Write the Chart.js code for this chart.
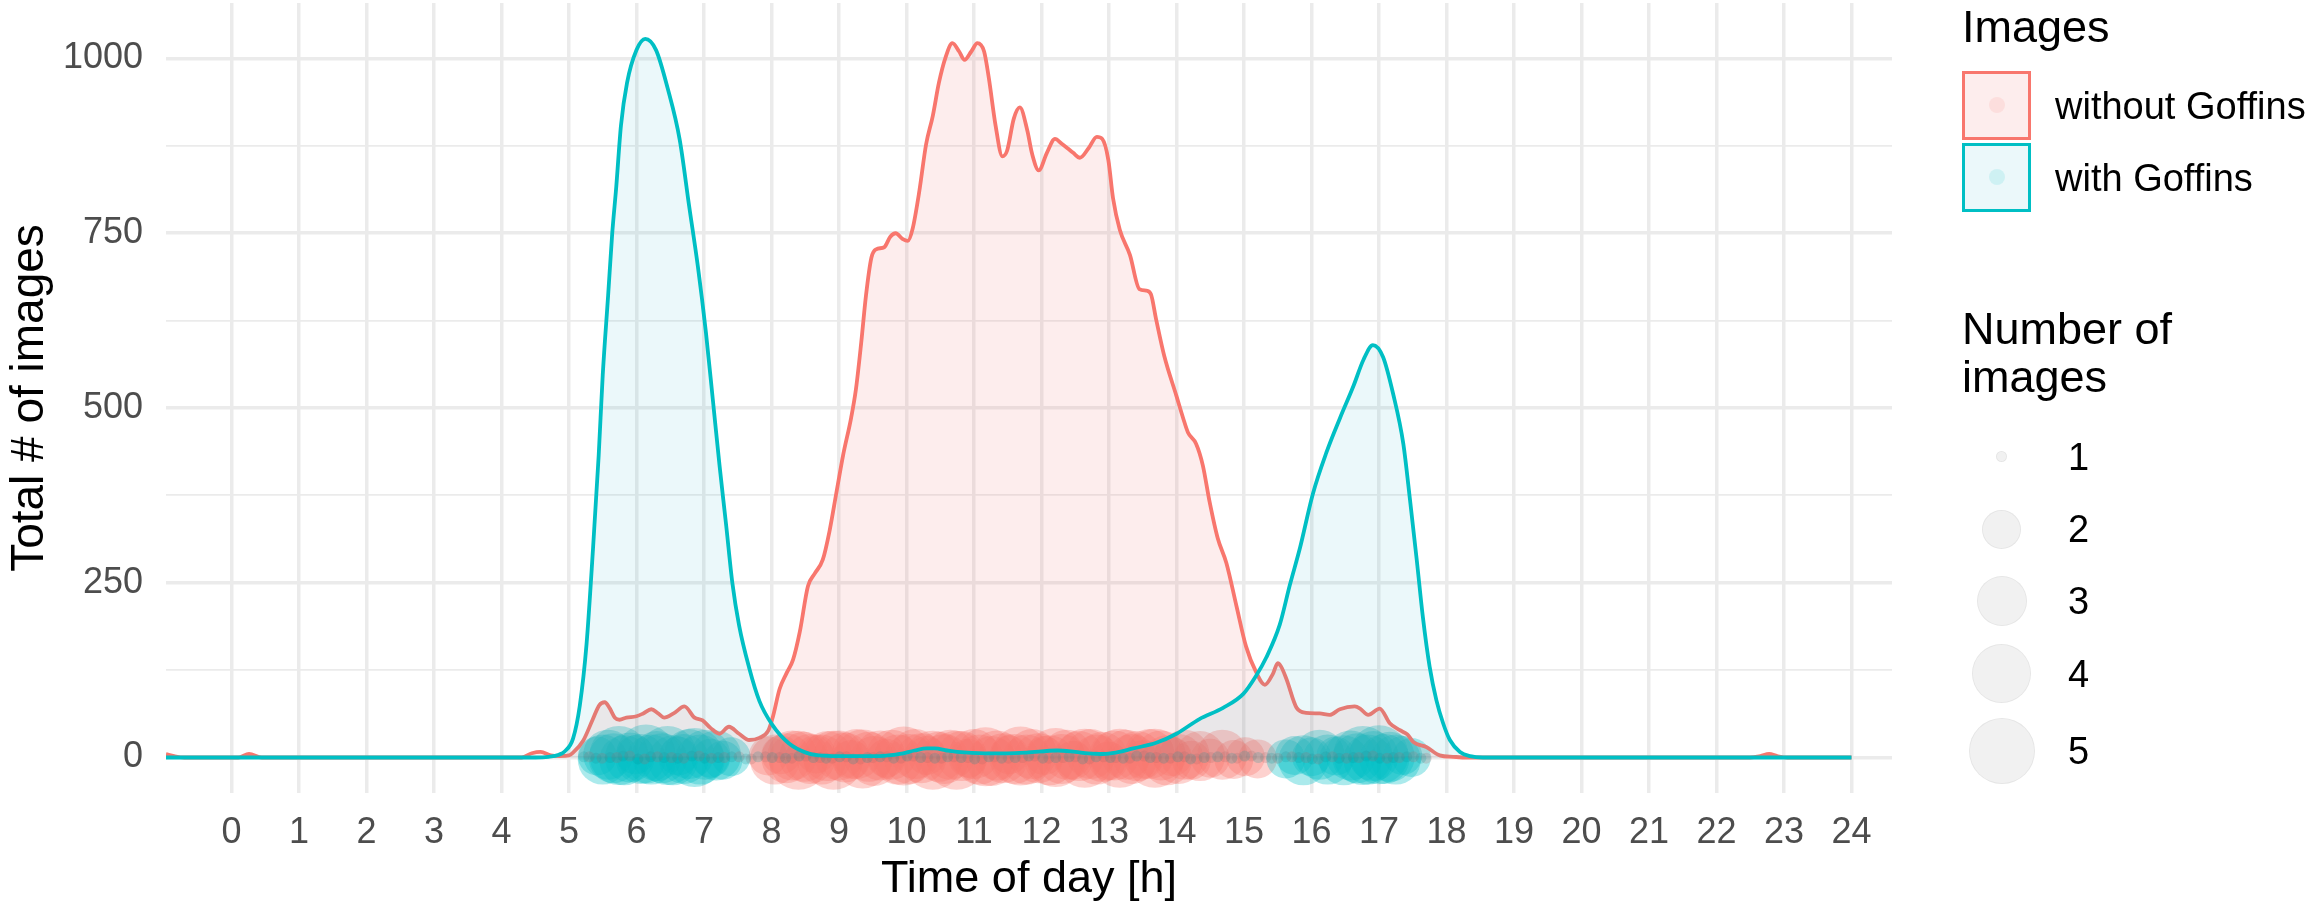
<!DOCTYPE html>
<html><head><meta charset="utf-8">
<script src="https://cdn.jsdelivr.net/npm/chart.js@4.4.1/dist/chart.umd.min.js"></script>
<style>
html,body{margin:0;padding:0;background:#fff;}
#wrap{position:relative;width:2308px;height:912px;overflow:hidden;font-family:"Liberation Sans",Arial,Helvetica,sans-serif;}
#c{position:absolute;left:0;top:0;}
.lg{position:absolute;white-space:nowrap;line-height:1;color:#000;}
.key{position:absolute;box-sizing:border-box;}
.dot{position:absolute;border-radius:50%;box-sizing:border-box;}
</style></head><body>
<div id="wrap"><canvas id="c" width="2308" height="912"></canvas><div id="legend"></div></div>
<script>
// ---------- data ----------
const hourTicks = [0,1,2,3,4,5,6,7,8,9,10,11,12,13,14,15,16,17,18,19,20,21,22,23,24];
const yLabelValues = [0,250,500,750,1000];
const yMinorValues = [125,375,625,875];

const seriesNames = ['without Goffins','with Goffins'];
const legendTitle = 'Images';
const sizeTitle = ['Number of','images'];
const sizeLevels = [1,2,3,4,5];

// density curve "without Goffins"
const redHours = [-0.97,-0.85,-0.7,0.1,0.26,0.45,4.3,4.45,4.58,4.73,
 4.86,5.0,5.06,5.21,5.35,5.45,5.53,5.6,5.68,5.75,
 5.85,6.0,6.1,6.22,6.32,6.41,6.55,6.71,6.86,6.98,
 7.1,7.23,7.37,7.52,7.67,7.82,7.95,8.02,8.12,8.22,
 8.32,8.42,8.54,8.64,8.76,8.86,8.96,9.06,9.18,9.25,
 9.33,9.4,9.48,9.55,9.67,9.76,9.84,9.94,10.02,10.09,
 10.19,10.29,10.39,10.48,10.58,10.68,10.78,10.86,10.96,11.05,
 11.15,11.22,11.32,11.42,11.49,11.59,11.68,11.79,11.86,11.96,
 12.08,12.2,12.3,12.38,12.47,12.57,12.7,12.82,12.9,12.99,
 13.06,13.16,13.31,13.45,13.55,13.62,13.7,13.82,14.0,14.1,
 14.17,14.29,14.39,14.49,14.61,14.74,14.89,15.03,15.18,15.31,
 15.43,15.5,15.55,15.63,15.78,15.92,16.12,16.27,16.42,16.64,
 16.72,16.84,17.01,17.16,17.31,17.42,17.51,17.7,17.9,18.1,
 18.3,22.5,22.65,22.78,22.9,23.05,24];
const redValues = [5,2,0,0,5,0,0,6,8,3,
 2,3,7,24,54,75,79,71,57,54,
 57,59,63,69,63,57,63,73,57,53,
 42,34,44,34,25,28,38,58,98,120,
 140,180,245,263,283,324,378,432,486,526,
 594,661,715,727,730,745,750,742,739,756,
 810,877,918,965,1002,1022,1010,998,1010,1022,
 1010,972,904,860,868,914,930,897,864,840,
 865,885,878,872,865,858,872,888,885,855,
 800,755,719,670,668,663,626,574,517,485,
 465,449,418,366,314,278,216,159,122,104,
 120,135,130,112,71,64,63,61,69,73,
 70,61,70,49,39,33,22,15,3,1,
 0,0,2,5,2,0,0];

// density curve "with Goffins"
const tealHours = [-0.97,4.5,4.7,4.85,4.94,5.06,5.16,5.26,5.355,5.44,
 5.5,5.58,5.64,5.7,5.77,5.86,6.0,6.13,6.29,6.46,
 6.64,6.78,6.91,7.03,7.13,7.23,7.33,7.42,7.52,7.67,
 7.82,8.01,8.26,8.51,8.7,9.0,9.6,9.9,10.12,10.3,
 10.42,10.6,10.75,11.17,11.5,11.78,12.23,12.5,12.69,12.91,
 13.1,13.36,13.7,14.0,14.34,14.69,14.99,15.18,15.33,15.53,
 15.68,15.83,16.02,16.22,16.42,16.62,16.77,16.91,17.06,
 17.21,17.36,17.46,17.56,17.65,17.75,17.85,17.95,18.05,18.2,
 18.35,18.54,24];
const tealValues = [0,0,1,4,9,27,74,162,297,432,
 547,661,749,816,904,965,1012,1028,1012,958,
 884,789,702,607,513,418,331,250,189,128,
 81,47,20,7,3,2,2,5,10,13,
 13,10,8,6,6,7,10,8,6,5,
 7,13,21,34,55,71,91,117,143,190,
 247,300,377,436,485,531,569,590,573,
 520,449,368,282,201,130,82,49,25,8,
 2,0,0];

// images plotted as points (hour, jitter, number of images)
const redPtHours = [7.95,8.05,8.14,8.22,8.31,8.40,8.48,8.57,8.66,8.74,
 8.83,8.92,9.00,9.09,9.18,9.26,9.35,9.44,9.52,9.61,
 9.70,9.78,9.87,9.96,10.04,10.13,10.22,10.30,10.39,10.48,
 10.56,10.65,10.74,10.82,10.91,11.00,11.08,11.17,11.26,11.34,
 11.43,11.52,11.60,11.69,11.78,11.86,11.95,12.04,12.12,12.21,
 12.30,12.38,12.47,12.56,12.64,12.73,12.82,12.90,12.99,13.08,
 13.16,13.25,13.34,13.42,13.51,13.60,13.68,13.77,13.86,13.94,
 14.03,14.12,14.22,14.35,14.50,14.68,14.85,15.02,15.20];
const redPtCounts = [2,3,2,3,3,4,3,3,2,3,
 3,4,3,3,2,3,4,3,3,3,
 2,3,3,4,3,3,3,2,4,3,
 3,3,4,3,2,3,3,4,3,3,
 3,2,3,4,3,3,3,2,3,4,
 3,3,2,3,4,3,3,3,2,3,
 4,3,3,3,2,3,4,3,3,2,
 3,3,2,3,2,3,2,2,2];
const redPtJitter = [2,-3,4,-1,3,-4,1,-2,5,-3,
 2,-4,3,0,-3,5,-2,1,-5,3,
 -1,4,-3,2,-2,5,-1,3,-4,1,
 -2,4,-4,2,-1,5,-3,1,-5,3,
 -1,4,-2,2,-3,5,-1,3,-4,0,
 -2,4,-4,2,-1,5,-3,1,-5,3,
 -1,4,-2,2,-3,5,-1,3,-4,1,
 -2,4,-4,2,-1,4,-3,1,-2];

const tealPtHours = [5.42,5.50,5.58,5.66,5.74,5.82,5.90,5.98,6.06,6.14,
 6.22,6.30,6.38,6.46,6.54,6.62,6.70,6.78,6.86,6.94,
 7.02,7.10,7.18,7.28,7.40,
 15.62,15.75,15.88,16.00,16.12,16.24,16.36,16.48,16.58,16.68,
 16.76,16.84,16.92,17.00,17.08,17.16,17.25,17.35,17.48];
const tealPtCounts = [2,3,3,3,4,3,3,2,3,4,
 3,3,3,4,3,2,3,3,4,3,
 3,2,3,2,2,
 2,2,3,2,3,3,2,3,3,3,
 4,3,3,4,3,3,3,2,2];
const tealPtJitter = [2,-3,4,-1,3,-4,0,4,-2,5,
 -3,2,-1,3,-4,2,-2,5,0,-3,
 4,-1,3,-4,1,
 -2,3,-4,1,4,-3,2,-4,3,-1,
 3,-3,2,4,-2,1,-3,3,0];

// single images (number of images = 1)
const redSingleHours = [5.30,5.49,5.71,5.90,6.12,6.31,6.52,6.70,6.93,7.11,
 7.30,7.52,7.70,7.91,8.12,8.30,8.51,8.72,8.90,9.11,
 9.32,9.50,9.71,9.92,10.10,10.31,10.52,10.70,10.91,11.12,
 11.30,11.51,11.72,11.90,12.11,12.32,12.50,12.71,12.92,13.10,
 13.31,13.52,13.70,13.91,14.12,14.30,14.51,14.72,14.90,15.11,
 15.32,15.50,15.71,15.92,16.10,16.31,16.52,16.70,16.91,17.12,
 17.30,17.51,17.70];
const tealSingleHours = [5.22,5.40,5.61,5.80,6.02,6.21,6.41,6.61,6.82,7.01,
 7.21,7.41,7.62,7.80,8.01,8.21,8.41,8.62,8.81,9.01,
 9.21,9.42,9.61,9.81,10.01,10.21,10.42,10.61,10.81,11.01,
 11.22,11.41,11.61,11.81,12.02,12.21,12.41,12.61,12.81,13.02,
 13.21,13.41,13.61,13.81,14.02,14.21,14.41,14.61,14.82,15.01,
 15.21,15.41,15.62,15.81,16.01,16.21,16.41,16.62,16.81,17.01,
 17.21,17.41,17.62];
const singleJitter = [1,-1,0,2,-2,1,0,-1,2,-1,
 0,1,-2,1,0,-1,2,0,-1,1,
 -2,0,1,-1,2,0,-1,1,0,-2,
 1,-1,0,2,-1,0,1,-2,1,0,
 -1,2,0,-1,1,-2,0,1,-1,2,
 0,-1,1,0,-2,1,-1,0,2,-1,
 0,1,-1];

// ---------- styles ----------
const FONT = '"Liberation Sans", Arial, Helvetica, sans-serif';
const RED = '#F8766D', TEAL = '#00BFC4';
const sizeRadius = {1:5.5, 2:19.5, 3:25, 4:29.5, 5:33};
const pairs = (xs, ys) => xs.map((x, i) => ({x: x, y: ys[i]}));

const ctx = document.getElementById('c').getContext('2d');
new Chart(ctx, {
  type: 'line',
  data: {
    datasets: [
      {label: seriesNames[1], data: pairs(tealHours, tealValues), borderColor: TEAL, borderWidth: 3.8,
       backgroundColor: 'rgba(20,170,200,0.085)', fill: 'origin', pointRadius: 0, cubicInterpolationMode: 'monotone', order: 0},
      {label: seriesNames[0], data: pairs(redHours, redValues), borderColor: RED, borderWidth: 3.8,
       backgroundColor: 'rgba(240,110,105,0.12)', fill: 'origin', pointRadius: 0, cubicInterpolationMode: 'monotone', order: 1},
      {type: 'scatter', data: pairs(tealSingleHours, singleJitter), pointRadius: sizeRadius[1], pointBorderWidth: 0,
       pointBackgroundColor: 'rgba(0,150,155,0.22)', order: 10},
      {type: 'scatter', data: pairs(redSingleHours, singleJitter), pointRadius: sizeRadius[1], pointBorderWidth: 0,
       pointBackgroundColor: 'rgba(170,100,100,0.22)', order: 11},
      {type: 'scatter', data: pairs(tealPtHours, tealPtJitter), pointRadius: tealPtCounts.map(c => sizeRadius[c]), pointBorderWidth: 0,
       pointBackgroundColor: 'rgba(0,191,196,0.33)', order: 20},
      {type: 'scatter', data: pairs(redPtHours, redPtJitter), pointRadius: redPtCounts.map(c => sizeRadius[c]), pointBorderWidth: 0,
       pointBackgroundColor: 'rgba(248,118,109,0.33)', order: 21}
    ]
  },
  options: {
    responsive: false, animation: false, devicePixelRatio: 1,
    layout: {autoPadding: false, padding: {left: 0, right: 416, top: 3, bottom: 0}},
    plugins: {legend: {display: false}, tooltip: {enabled: false}},
    elements: {point: {hoverRadius: 0}},
    scales: {
      x: {
        type: 'linear', min: -0.97, max: 24.6,
        afterBuildTicks: s => { s.ticks = hourTicks.map(v => ({value: v})); },
        afterFit: s => { s.height = 119; s.paddingLeft = 0; s.paddingRight = 0; },
        grid: {color: '#EBEBEB', lineWidth: 3.5, drawTicks: false},
        border: {display: false},
        ticks: {font: {family: FONT, size: 36}, color: '#4D4D4D', padding: 18, maxRotation: 0, autoSkip: false,
                callback: v => String(v)},
        title: {display: true, text: 'Time of day [h]', color: '#000', font: {family: FONT, size: 45, lineHeight: 1},
                padding: {top: 0, bottom: 10}}
      },
      y: {
        type: 'linear', min: -50.8, max: 1079.4,
        afterBuildTicks: s => { s.ticks = yLabelValues.concat(yMinorValues).sort((a, b) => a - b).map(v => ({value: v})); },
        afterFit: s => { s.width = 166; s.paddingTop = 0; s.paddingBottom = 0; },
        grid: {color: '#EBEBEB', lineWidth: c => (c.tick && yLabelValues.includes(c.tick.value)) ? 3.5 : 1.8, drawTicks: false},
        border: {display: false},
        ticks: {font: {family: FONT, size: 36}, color: '#4D4D4D', padding: 23, autoSkip: false,
                callback: v => yLabelValues.includes(v) ? String(v) : ''},
        title: {display: true, text: 'Total # of images', color: '#000', font: {family: FONT, size: 46, lineHeight: 1},
                padding: {top: 7, bottom: 0}}
      }
    }
  }
});

// ---------- legend (HTML text) ----------
const lg = document.getElementById('legend');
function addText(txt, left, baseline, size, color) {
  const d = document.createElement('div');
  d.className = 'lg';
  d.textContent = txt;
  d.style.left = left + 'px';
  d.style.top = (baseline - 0.8465 * size) + 'px';
  d.style.fontSize = size + 'px';
  if (color) d.style.color = color;
  lg.appendChild(d);
}
function addDot(cx, cy, r, bg, border) {
  const d = document.createElement('div');
  d.className = 'dot';
  d.style.left = (cx - r) + 'px'; d.style.top = (cy - r) + 'px';
  d.style.width = (2 * r) + 'px'; d.style.height = (2 * r) + 'px';
  d.style.background = bg;
  if (border) d.style.border = border;
  lg.appendChild(d);
}
addText(legendTitle, 1962, 42, 45);
const keyColors = [[RED, 'rgba(240,110,105,0.12)', 'rgba(248,118,109,0.12)'], [TEAL, 'rgba(20,170,200,0.085)', 'rgba(0,191,196,0.12)']];
const keyTops = [70.5, 142.5];
seriesNames.forEach((name, i) => {
  const k = document.createElement('div');
  k.className = 'key';
  k.style.left = '1962px'; k.style.top = keyTops[i] + 'px';
  k.style.width = '69px'; k.style.height = '69px';
  k.style.border = '3.8px solid ' + keyColors[i][0];
  k.style.background = keyColors[i][1];
  lg.appendChild(k);
  addDot(1996.5, keyTops[i] + 34.5, 8, keyColors[i][2]);
  addText(name, 2055, keyTops[i] + 34.5 + 14, 38);
});
addText(sizeTitle[0], 1962, 344, 45);
addText(sizeTitle[1], 1962, 392, 45);
const sizeCenters = [456.6, 529, 601, 673.5, 751];
sizeLevels.forEach((lev, i) => {
  addDot(2001.7, sizeCenters[i], sizeRadius[lev], 'rgba(0,0,0,0.055)', '1.5px solid rgba(0,0,0,0.05)');
  addText(String(lev), 2068, sizeCenters[i] + 13.5, 38);
});
</script>
</body></html>
